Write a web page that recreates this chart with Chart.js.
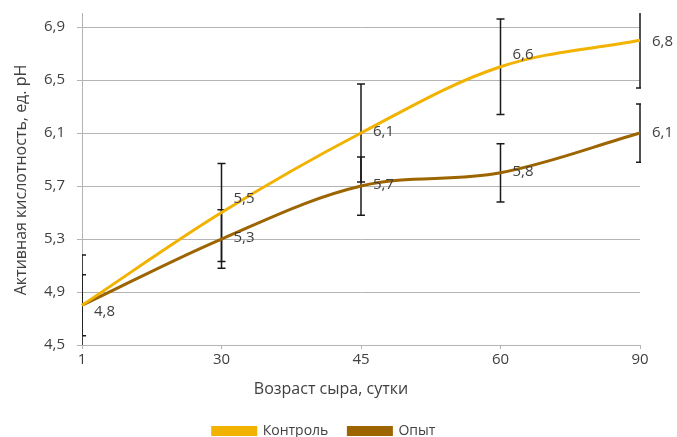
<!DOCTYPE html>
<html>
<head>
<meta charset="utf-8">
<script src="https://cdn.jsdelivr.net/npm/chart.js@4"></script>
<style>
  html, body { margin: 0; padding: 0; overflow: hidden; background: #fff; }
  #wrap { width: 677px; height: 448px; }
</style>
</head>
<body>
<div id="wrap"><canvas id="chart"></canvas></div>
<script>
// Cheese age, days
const days = ['1', '30', '45', '60', '90'];
// Active acidity, pH units
const controlPH = [4.8, 5.5, 6.1, 6.6, 6.8];
const trialPH = [4.8, 5.3, 5.7, 5.8, 6.1];
// Standard deviation of each measurement
const controlErr = [0.38, 0.37, 0.37, 0.36, 0.36];
const trialErr = [0.23, 0.22, 0.22, 0.22, 0.22];
// Value axis ticks
const yTicks = [4.5, 4.9, 5.3, 5.7, 6.1, 6.5, 6.9];

// Vertical nudge for each value label (null = label not shown)
const controlLabelDy = [null, -14, -1, -12, 1];
const trialLabelDy = [6, -1, -1, -1, 0];

const FONT = "'Open Sans', 'Noto Sans', sans-serif";
const TEXT = '#404040';
const GRID = '#b4b4b4';
const fmt = v => v.toFixed(1).replace('.', ',');

const errorBars = {
  id: 'errorBars',
  beforeDatasetsDraw(chart) {
    const { ctx, chartArea: a, scales: { x, y } } = chart;
    ctx.save();
    ctx.beginPath();
    ctx.rect(a.left, a.top, a.right - a.left + 1, a.bottom - a.top);
    ctx.clip();
    ctx.strokeStyle = '#1a1a1a';
    ctx.lineWidth = 1.5;
    [[controlPH, controlErr], [trialPH, trialErr]].forEach(([vals, errs]) => {
      vals.forEach((v, i) => {
        const px = x.getPixelForValue(i);
        const top = y.getPixelForValue(v + errs[i]);
        const bot = y.getPixelForValue(v - errs[i]);
        ctx.beginPath();
        ctx.moveTo(px, top); ctx.lineTo(px, bot);
        ctx.moveTo(px - 4, top); ctx.lineTo(px + 4, top);
        ctx.moveTo(px - 4, bot); ctx.lineTo(px + 4, bot);
        ctx.stroke();
      });
    });
    ctx.restore();
  }
};

const valueLabels = {
  id: 'valueLabels',
  afterDatasetsDraw(chart) {
    const { ctx } = chart;
    const shifts = [controlLabelDy, trialLabelDy];
    ctx.save();
    ctx.font = `15px ${FONT}`;
    ctx.fillStyle = TEXT;
    ctx.textAlign = 'left';
    ctx.textBaseline = 'middle';
    chart.data.datasets.forEach((ds, di) => {
      chart.getDatasetMeta(di).data.forEach((pt, i) => {
        const dy = shifts[di][i];
        if (dy === null) return;
        ctx.fillText(fmt(ds.data[i]), pt.x + 12, pt.y + dy);
      });
    });
    ctx.restore();
  }
};

const axisTitles = {
  id: 'axisTitles',
  afterDraw(chart) {
    const { ctx } = chart;
    ctx.save();
    ctx.font = `16px ${FONT}`;
    ctx.fillStyle = TEXT;
    ctx.textAlign = 'center';
    ctx.textBaseline = 'middle';
    ctx.fillText('Возраст сыра, сутки', 331, 389);
    ctx.translate(21, 180);
    ctx.rotate(-Math.PI / 2);
    ctx.fillText('Активная кислотность, ед. pH', 0, 0);
    ctx.restore();
  }
};

new Chart(document.getElementById('chart'), {
  type: 'line',
  data: {
    labels: days,
    datasets: [
      { label: 'Контроль', data: controlPH, borderColor: '#F2B200', backgroundColor: '#F2B200' },
      { label: 'Опыт', data: trialPH, borderColor: '#9C6500', backgroundColor: '#9C6500' }
    ]
  },
  options: {
    responsive: true,
    maintainAspectRatio: false,
    animation: false,
    layout: { padding: { left: 8, right: 37, top: 13, bottom: 0 } },
    elements: {
      line: { borderWidth: 3, tension: 0.35, fill: false },
      point: { radius: 0, hoverRadius: 0 }
    },
    scales: {
      x: {
        type: 'category',
        offset: false,
        afterFit(s) { s.height = 59; },
        grid: { drawOnChartArea: false, drawTicks: true, tickLength: 4, color: GRID },
        border: { color: GRID },
        ticks: { color: TEXT, font: { family: FONT, size: 15 }, padding: 2, maxRotation: 0 }
      },
      y: {
        type: 'linear',
        min: 4.5,
        max: 7.006,
        afterFit(s) { s.width = 74; s.paddingTop = 0; s.paddingBottom = 0; },
        afterBuildTicks(s) { s.ticks = yTicks.map(v => ({ value: v })); },
        grid: { color: GRID, tickLength: 5 },
        border: { color: GRID },
        ticks: { color: TEXT, font: { family: FONT, size: 15 }, padding: 12, callback: v => fmt(v) }
      }
    },
    plugins: {
      legend: {
        position: 'bottom',
        labels: { boxWidth: 43, boxHeight: 7, padding: 20, color: TEXT, font: { family: FONT, size: 14 } }
      },
      tooltip: { enabled: false }
    }
  },
  plugins: [errorBars, valueLabels, axisTitles]
});
</script>
</body>
</html>
